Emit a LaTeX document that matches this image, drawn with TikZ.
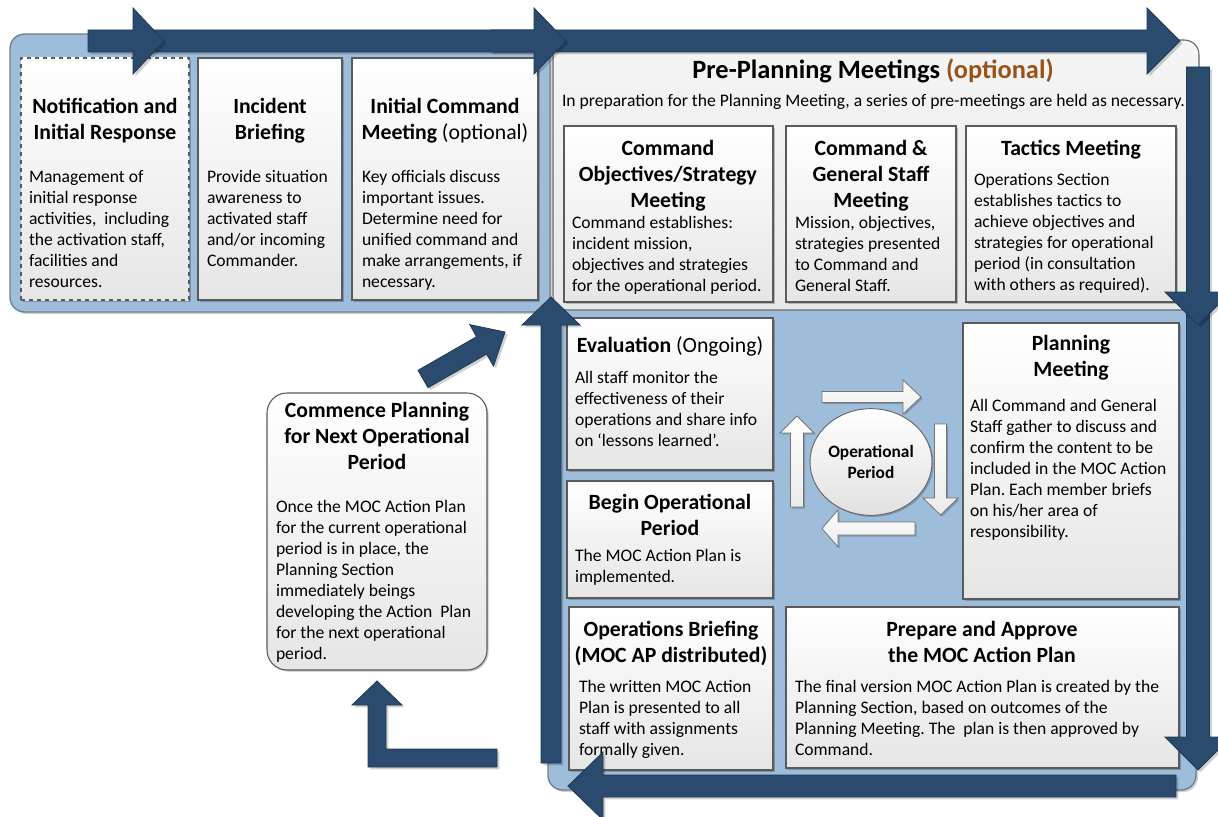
\documentclass[tikz,border=0pt]{standalone}
\usepackage{fontspec}
\setmainfont{Carlito}
\frenchspacing
\usetikzlibrary{shadows,shapes.geometric,fit}
\definecolor{navy}{HTML}{2A4B6D}
\definecolor{navyedge}{HTML}{1F3A56}
\definecolor{lblue}{HTML}{9EBDDB}
\definecolor{optorange}{HTML}{9A5217}
\definecolor{boxedge}{HTML}{5A5A5A}
\definecolor{contedge}{HTML}{6E7F90}
\tikzset{
  every node/.style={inner sep=0pt, outer sep=0pt},
  bodytxt/.style={font=\fontsize{13.2}{15.75}\selectfont, align=left, anchor=north west},
  headtxt/.style={font=\fontsize{16.3}{19.5}\selectfont\bfseries, align=center, anchor=north},
  card/.style={draw=boxedge, line width=0.8pt, top color=white, bottom color=black!10,
    drop shadow={shadow xshift=1.2pt, shadow yshift=-1.2pt, opacity=0.22, fill=black}},
  container/.style={draw=contedge, line width=1pt, fill=lblue, rounded corners=11pt,
    drop shadow={shadow xshift=1.5pt, shadow yshift=-1.5pt, opacity=0.18, fill=black}},
  bigarrow/.style={fill=navy, draw=navyedge, line width=0.6pt, line join=miter,
    drop shadow={shadow xshift=1.8pt, shadow yshift=-1.8pt, opacity=0.18, fill=black}},
  whitearrow/.style={draw=black!55, line width=0.6pt, top color=white, bottom color=black!8,
    drop shadow={shadow xshift=1.2pt, shadow yshift=-1.2pt, opacity=0.2, fill=black}},
}
\begin{document}
\begin{tikzpicture}[x=0.75pt, y=-0.75pt]
\useasboundingbox (0,0) rectangle (1218,817);
\fill[white] (0,0) rectangle (1218,817);

% ---------- containers ----------
\path[container] (10,34) rectangle (550,312);
\path[container] (548,300) rectangle (1196,790);
\path[draw=black!60, line width=0.8pt, top color=black!4, bottom color=black!9, rounded corners=11pt]
  (553,40) rectangle (1199,310);

% ---------- top-left cards ----------
\node[card, dashed, fit={(21,58) (189,300)}] (tl1) {};
\node[card, fit={(198,58) (342,300)}] (tl2) {};
\node[card, fit={(352,58) (538,300)}] (tl3) {};

\node[headtxt] (tl1h) at (105,95) {\strut Notification and\\Initial Response};
\node[bodytxt] (tl1b) at (29,168) {\strut Management of\\initial response\\activities,\ \ including\\the activation staff,\\facilities and\\resources.};
\node[headtxt] (tl2h) at (270,95) {\strut Incident\\Briefing};
\node[bodytxt] (tl2b) at (207,168) {\strut Provide situation\\awareness to\\activated staff\\and/or incoming\\Commander.};
\node[headtxt] (tl3h) at (445,95) {\strut Initial Command\\Meeting {\mdseries (optional)}};
\node[bodytxt] (tl3b) at (362,168) {\strut Key officials discuss\\important issues.\\Determine need for\\unified command and\\make arrangements, if\\necessary.};

% ---------- pre-planning ----------
\node[font=\fontsize{19.8}{24}\selectfont\bfseries, anchor=base] (pptitle) at (873,79)
  {Pre-Planning Meetings \textcolor{optorange}{(optional)}};
\node[font=\fontsize{13.2}{15.75}\selectfont, anchor=base west] (ppsub) at (562,107)
  {In preparation for the Planning Meeting, a series of pre-meetings are held as necessary.};

\node[card, fit={(564,126) (773,302)}] (pp1) {};
\node[card, fit={(786,126) (956,302)}] (pp2) {};
\node[card, fit={(966,126) (1176,302)}] (pp3) {};

\node[headtxt] (pp1h) at (668,137) {\strut Command\\Objectives/Strategy\\Meeting};
\node[bodytxt] (pp1b) at (572,214) {\strut Command establishes:\\incident mission,\\objectives and strategies\\for the operational period.};
\node[headtxt] (pp2h) at (871,137) {\strut Command \&\\General Staff\\Meeting};
\node[bodytxt] (pp2b) at (795,214) {\strut Mission, objectives,\\strategies presented\\to Command and\\General Staff.};
\node[headtxt] (pp3h) at (1071,137) {\strut Tactics Meeting};
\node[bodytxt] (pp3b) at (974,171) {\strut Operations Section\\establishes tactics to\\achieve objectives and\\strategies for operational\\period (in consultation\\with others as required).};

% ---------- lower cards ----------
\node[card, fit={(567,318) (773,470)}] (ev) {};
\node[card, fit={(567,481) (773,598)}] (bo) {};
\node[card, fit={(963,323) (1179,599)}] (pm) {};
\node[card, fit={(569,607) (773,770)}] (ob) {};
\node[card, fit={(786,607) (1179,768)}] (pa) {};

\node[headtxt] (evh) at (670,334) {\strut Evaluation {\mdseries (Ongoing)}};
\node[bodytxt] (evb) at (575,369) {\strut All staff monitor the\\effectiveness of their\\operations and share info\\on `lessons learned'.};
\node[headtxt] (boh) at (670,491) {\strut Begin Operational\\Period};
\node[bodytxt] (bob) at (575,547) {\strut The MOC Action Plan is\\implemented.};
\node[headtxt] (pmh) at (1071,332) {\strut Planning\\Meeting};
\node[bodytxt] (pmb) at (970,397) {\strut All Command and General\\Staff gather to discuss and\\confirm the content to be\\included in the MOC Action\\Plan. Each member briefs\\on his/her area of\\responsibility.};
\node[headtxt] (obh) at (671,618) {\strut Operations Briefing\\(MOC AP distributed)};
\node[bodytxt] (obb) at (579,678) {\strut The written MOC Action\\Plan is presented to all\\staff with assignments\\formally given.};
\node[headtxt] (pah) at (982,618) {\strut Prepare and Approve\\the MOC Action Plan};
\node[bodytxt] (pab) at (795,678) {\strut The final version MOC Action Plan is created by the\\Planning Section, based on outcomes of the\\Planning Meeting. The\ \ plan is then approved by\\Command.};

% ---------- commence planning ----------
\node[card, rounded corners=15pt, fit={(267,393) (487,670)}] (cp) {};
\node[headtxt] (cph) at (377,399) {\strut Commence Planning\\for Next Operational\\Period};
\node[bodytxt] (cpb) at (276,498) {\strut Once the MOC Action Plan\\for the current operational\\period is in place, the\\Planning Section\\immediately beings\\developing the Action\ \ Plan\\for the next operational\\period.};

% ---------- operational period cycle ----------
\node[ellipse, draw=black!60, line width=0.7pt, top color=white, bottom color=black!12,
  minimum width=91.5pt, minimum height=80pt,
  drop shadow={shadow xshift=1.2pt, shadow yshift=-1.2pt, opacity=0.2, fill=black},
  font=\fontsize{13}{15.75}\selectfont\bfseries, align=center] (op) at (871,462) {Operational\\Period};

\path[whitearrow] (822,391.5)--(903,391.5)--(903,380)--(921,397)--(903,414)--(903,402.5)--(822,402.5)--cycle;
\path[whitearrow] (934.5,424)--(946.5,424)--(946.5,498)--(958,498)--(940.5,515)--(923,498)--(934.5,498)--cycle;
\path[whitearrow] (915,522)--(838,522)--(838,510)--(822,528.5)--(838,547)--(838,535)--(915,535)--cycle;
\path[whitearrow] (790.5,507)--(790.5,433)--(780,433)--(797,416)--(814,433)--(803.5,433)--(803.5,507)--cycle;

% ---------- big navy arrows ----------
\path[bigarrow] (491,30)--(1147,30)--(1147,8)--(1180,41)--(1147,74)--(1147,52)--(491,52)--cycle;
\path[bigarrow] (150,30)--(534,30)--(534,8)--(566,41)--(534,74)--(534,52)--(150,52)--cycle;
\path[bigarrow] (88,30)--(133,30)--(133,8)--(164,41)--(133,74)--(133,52)--(88,52)--cycle;

\path[bigarrow] (1186.5,300)--(1209.5,300)--(1209.5,737)--(1231,737)--(1198,770)--(1165,737)--(1186.5,737)--cycle;
\path[bigarrow] (1186.5,67)--(1209.5,67)--(1209.5,292)--(1231,292)--(1198,325)--(1165,292)--(1186.5,292)--cycle;

\path[bigarrow] (1176,775)--(603,775)--(603,752)--(568,786)--(603,820)--(603,797)--(1176,797)--cycle;
\path[bigarrow] (541,763)--(541,325)--(522,325)--(551,297)--(580,325)--(561,325)--(561,763)--cycle;

\path[bigarrow] (418.0,370.3)--(476.6,336.7)--(469.7,324.6)--(505,332)--(493.5,366.2)--(486.6,354.1)--(428.0,387.7)--cycle;
\path[bigarrow] (497,749)--(386,749)--(386,705)--(402,705)--(377,681)--(352,705)--(368,705)--(368,767)--(497,767)--cycle;
\end{tikzpicture}
\end{document}
